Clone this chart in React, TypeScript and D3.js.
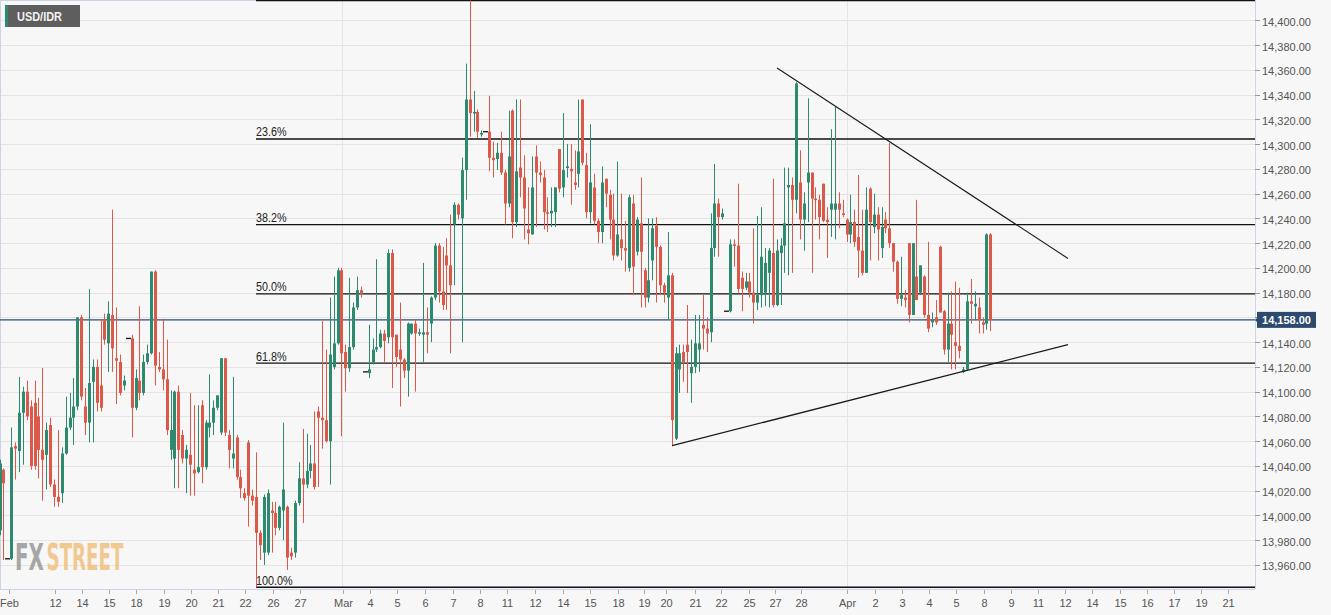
import React from 'react';
import * as d3 from 'd3';

// ---------- DATA ----------
const pairName = 'USD/IDR';

// [open, high, low, close] for every 4-hour candle, oldest first
const ohlc: [number, number, number, number][] = [
[13988,14045,13984,14042],[14037,14038,13964,14026],[13965,13965,13965,13965],[13965,14071,13964,14055],
[14056,14059,14029,14054],[14052,14112,14035,14083],[14083,14104,14041,14100],[14100,14109,14077,14080],
[14088,14093,14037,14040],[14091,14109,14037,14040],[14080,14095,14030,14053],[14053,14119,14012,14045],
[14049,14075,14021,14069],[14073,14079,14023,14025],[14025,14029,14007,14015],[14015,14069,14007,14011],
[14018,14055,14010,14050],[14050,14096,14049,14071],[14071,14099,14069,14079],[14079,14111,14057,14088],
[14088,14160,14085,14160],[14160,14162,14093,14096],[14088,14103,14065,14075],[14075,14183,14059,14107],
[14108,14126,14059,14120],[14120,14126,14084,14091],[14105,14158,14084,14087],[14158,14163,14138,14142],
[14139,14173,14116,14163],[14162,14247,14116,14135],[14127,14168,14090,14125],[14124,14130,14097,14099],
[14105,14113,14101,14109],[14143,14143,14143,14143],[14143,14146,14063,14087],[14087,14118,14085,14111],
[14109,14169,14093,14099],[14099,14130,14097,14124],[14124,14138,14122,14131],[14131,14197,14130,14197],
[14197,14198,14105,14121],[14120,14132,14116,14118],[14118,14159,14101,14110],[14110,14142,14065,14069],
[14053,14101,14045,14069],[14046,14101,14022,14100],[14100,14105,14022,14053],[14065,14069,14042,14046],
[14046,14057,14018,14053],[14049,14099,14016,14041],[14037,14089,14016,14034],[14035,14089,14034,14039],
[14089,14093,14026,14039],[14039,14077,14037,14075],[14071,14114,14063,14075],[14075,14093,14065,14087],
[14087,14097,14085,14097],[14067,14127,14065,14127],[14127,14127,14064,14067],[14065,14069,14038,14053],
[14046,14112,14038,14050],[14063,14065,14029,14031],[14031,14037,14014,14022],[14018,14022,14012,14014],
[14059,14061,13991,14016],[14016,14021,14008,14012],[14015,14051,13942,13986],[13986,13988,13964,13976],
[13970,14017,13960,14015],[13970,14021,13968,14018],[14004,14011,13970,14002],[14002,14011,13984,13990],
[13990,14008,13988,14007],[14004,14075,13980,14021],[14007,14008,13956,13966],[13970,13974,13964,13967],
[13970,14012,13966,14010],[14010,14043,14008,14030],[14030,14070,13994,14025],[14025,14066,14022,14036],
[14036,14057,14030,14042],[14042,14084,14021,14023],[14084,14088,14023,14079],[14079,14157,14054,14077],
[14077,14134,14059,14060],[14060,14176,14025,14130],[14120,14193,14118,14139],[14139,14200,14138,14198],
[14198,14200,14064,14131],[14132,14138,14100,14119],[14119,14192,14116,14136],[14136,14172,14134,14168],
[14168,14193,14166,14182],[14182,14185,14176,14179],[14116,14116,14116,14116],[14115,14154,14111,14118],
[14123,14143,14122,14134],[14134,14207,14132,14136],[14136,14150,14135,14147],[14147,14150,14124,14141],
[14144,14215,14139,14212],[14212,14215,14103,14144],[14146,14146,14120,14128],[14134,14172,14088,14126],
[14126,14127,14111,14117],[14117,14156,14096,14155],[14147,14155,14146,14155],[14155,14158,14100,14147],
[14147,14151,14145,14148],[14146,14204,14124,14148],[14148,14168,14131,14146],[14155,14177,14140,14176],
[14176,14220,14174,14218],[14218,14220,14172,14181],[14181,14217,14166,14170],[14210,14224,14166,14202],
[14202,14243,14131,14186],[14235,14253,14186,14251],[14251,14252,14239,14243],[14240,14289,14140,14279],
[14279,14365,14255,14336],[14336,14416,14306,14325],[14325,14343,14310,14326],[14326,14328,14305,14310],
[14308,14311,14306,14309],[14310,14310,14310,14310],[14310,14339,14278,14289],[14289,14302,14273,14287],
[14288,14301,14279,14293],[14293,14310,14275,14277],[14277,14279,14235,14252],[14252,14327,14249,14290],
[14327,14328,14224,14237],[14237,14336,14233,14278],[14281,14336,14257,14273],[14273,14291,14223,14248],
[14231,14265,14219,14228],[14227,14290,14227,14265],[14290,14299,14233,14277],[14277,14286,14269,14275],
[14273,14279,14231,14245],[14245,14257,14229,14244],[14244,14265,14233,14246],[14245,14265,14233,14265],
[14296,14296,14261,14264],[14265,14325,14257,14279],[14281,14300,14273,14282],[14280,14300,14251,14278],
[14269,14295,14263,14267],[14276,14336,14265,14294],[14336,14336,14283,14285],[14283,14293,14240,14245],
[14245,14316,14236,14269],[14265,14276,14235,14238],[14238,14240,14220,14229],[14229,14282,14220,14269],
[14272,14272,14249,14260],[14259,14263,14223,14239],[14239,14260,14206,14210],[14210,14286,14209,14227],
[14223,14260,14206,14216],[14216,14238,14197,14214],[14200,14259,14197,14257],[14252,14259,14178,14201],
[14213,14241,14210,14239],[14236,14273,14168,14213],[14198,14200,14168,14176],[14176,14240,14172,14190],
[14206,14240,14190,14232],[14234,14241,14172,14217],[14217,14218,14178,14186],[14186,14188,14172,14180],
[14176,14229,14158,14194],[14194,14196,14056,14077],[14062,14136,14061,14131],[14118,14138,14099,14131],
[14132,14138,14108,14124],[14138,14170,14099,14132],[14115,14142,14091,14120],[14120,14162,14115,14139],
[14134,14162,14116,14139],[14154,14178,14134,14151],[14151,14160,14132,14147],[14148,14244,14140,14216],
[14216,14284,14209,14252],[14252,14256,14209,14241],[14241,14248,14239,14244],[14165,14165,14165,14165],
[14165,14223,14164,14219],[14219,14223,14201,14218],[14218,14268,14180,14183],[14192,14197,14165,14183],
[14184,14196,14182,14189],[14189,14196,14176,14180],[14180,14232,14155,14172],[14172,14242,14166,14178],
[14178,14249,14168,14209],[14180,14216,14169,14204],[14196,14216,14168,14214],[14212,14272,14168,14170],
[14170,14223,14169,14214],[14212,14224,14170,14218],[14218,14281,14196,14236],[14265,14281,14194,14267],
[14267,14273,14196,14255],[14255,14350,14244,14349],[14269,14295,14223,14239],[14239,14261,14214,14252],
[14269,14337,14237,14277],[14277,14277,14196,14256],[14256,14265,14239,14255],[14255,14259,14223,14241],
[14268,14268,14237,14238],[14239,14249,14208,14237],[14247,14312,14225,14252],[14247,14330,14223,14252],
[14252,14261,14232,14247],[14244,14255,14241,14243],[14239,14240,14221,14227],[14227,14259,14220,14237],
[14237,14247,14217,14221],[14225,14275,14192,14214],[14214,14247,14194,14196],[14196,14265,14196,14247],
[14264,14265,14206,14237],[14233,14260,14228,14243],[14243,14249,14206,14231],[14216,14249,14208,14233],
[14239,14245,14228,14232],[14232,14301,14216,14220],[14220,14220,14197,14205],[14205,14206,14171,14175],
[14175,14209,14169,14178],[14176,14182,14168,14174],[14220,14220,14156,14162],[14162,14220,14162,14220],
[14193,14255,14174,14174],[14180,14202,14178,14202],[14193,14194,14160,14162],[14162,14221,14148,14151],
[14156,14164,14152,14158],[14160,14174,14154,14156],[14217,14218,14164,14164],[14165,14166,14130,14134],
[14134,14180,14124,14155],[14155,14181,14118,14146],[14140,14189,14118,14137],[14137,14184,14127,14133],
[14116,14120,14115,14118],[14118,14180,14117,14173],[14173,14191,14155,14171],[14169,14181,14158,14171],
[14168,14176,14147,14158],[14156,14160,14147,14154],[14155,14228,14150,14227],[14227,14228,14149,14158],
];

const xTickLabels = ['Feb','12','14','15','18','19','20','21','22','26','27','Mar','4','5','6','7','8','11','12','14','15','18','19','20','21','22','25','27','28','Apr','2','3','4','5','8','9','11','12','14','15','16','17','19','21'];
const xTickIndex = [2.4,14.3,21.3,28.2,35.1,42.3,49.3,56.2,63.2,70.4,77.2,88.4,95.3,102.4,109.5,116.6,123.7,130.6,137.8,145,152,159.1,165.9,171.5,178.9,185.7,192.8,199.6,206.3,218.1,225.3,232.3,239.3,246.3,253.3,260.3,267.3,274.3,281.3,288.3,295.3,302.3,309.3,316.3];
const monthStartIndex = [88.1, 218.1];

const yTickValues = d3.range(13960, 14401, 20);
const priceDomain = [13940.6, 14416.4];
const lastPrice = 14158;

const fibHigh = 14416;
const fibLow = 13942;
const fibStartIndex = 66;
const fibRatios = [0, 0.236, 0.382, 0.5, 0.618, 1];
const fibLabels = ['', '23.6%', '38.2%', '50.0%', '61.8%', '100.0%'];

const upperTrendIndex = [200.1, 275];
const upperTrendPrice = [14361.5, 14207.6];
const lowerTrendIndex = [173.1, 275];
const lowerTrendPrice = [14056.4, 14138];

const watermarkParts = ['FX', 'STREET'];

// ---------- STYLE ----------
const W = 1331, H = 615;
const plotRight = 1255, plotBottom = 589;
const GREEN = '#2e8a6f';
const RED = '#dc5848';
const GRID = '#e4e4e4';
const AXIS = '#ccd4e4';
const FONT = '"Liberation Sans", Arial, Helvetica, sans-serif';
const WM_FONT = '"DejaVu Sans Condensed", "DejaVu Sans", sans-serif';

export default function App() {
  const x = d3.scaleLinear().domain([0, ohlc.length - 1]).range([-0.4, 990.3]);
  const y = d3.scaleLinear().domain(priceDomain).range([plotBottom, 0]);
  const fmt = d3.format(',.2f');
  const trendLine = d3.line<[number, number]>().x(d => x(d[0])).y(d => y(d[1]));

  const upper: [number, number][] = upperTrendIndex.map((v, k) => [v, upperTrendPrice[k]]);
  const lower: [number, number][] = lowerTrendIndex.map((v, k) => [v, lowerTrendPrice[k]]);

  const fibX = x(fibStartIndex);
  const lastY = y(lastPrice);

  return (
    <svg width={W} height={H} style={{ position: 'absolute', left: 0, top: 0, display: 'block' }}
      xmlns="http://www.w3.org/2000/svg">
      <defs>
        <clipPath id="plotClip">
          <rect x={0} y={0} width={plotRight} height={plotBottom} />
        </clipPath>
      </defs>
      <rect x={0} y={0} width={W} height={H} fill="#f7f7f7" />

      {/* grid */}
      <g>
        {yTickValues.map(v => (
          <line key={v} x1={0} x2={plotRight} y1={Math.round(y(v)) + 0.5} y2={Math.round(y(v)) + 0.5}
            stroke={GRID} strokeWidth={1} />
        ))}
        {monthStartIndex.map(m => (
          <line key={m} x1={Math.round(x(m)) + 0.5} x2={Math.round(x(m)) + 0.5} y1={0} y2={plotBottom}
            stroke={GRID} strokeWidth={1} />
        ))}
      </g>

      {/* plot frame */}
      <line x1={0} x2={plotRight} y1={0.5} y2={0.5} stroke={AXIS} />
      <line x1={0.5} x2={0.5} y1={0} y2={plotBottom} stroke={AXIS} />

      {/* watermark */}
      <g opacity={0.8} transform="translate(15,570) scale(1,1.85)">
        <text x={0} y={0} fontFamily={WM_FONT} fontWeight="bold" fontSize={20}
          textLength={29} lengthAdjust="spacingAndGlyphs" fill="#939393">{watermarkParts[0]}</text>
        <text x={31.5} y={0} fontFamily={WM_FONT} fontWeight="bold" fontSize={20}
          textLength={77} lengthAdjust="spacingAndGlyphs" fill="#f2bd78">{watermarkParts[1]}</text>
      </g>

      <g clipPath="url(#plotClip)">
        {/* fibonacci lines */}
        {fibRatios.map((r, k) => {
          const yy = y(fibHigh - r * (fibHigh - fibLow));
          return (
            <g key={r}>
              <line x1={fibX} x2={plotRight} y1={yy} y2={yy} stroke="#111" strokeWidth={1.4} />
              {fibLabels[k] && (
                <text x={fibX} y={yy - 2.5} fontFamily={FONT} fontSize={12} fill="#222"
                  textLength={fibLabels[k].length * 6.1} lengthAdjust="spacingAndGlyphs">{fibLabels[k]}</text>
              )}
            </g>
          );
        })}

        {/* last price line */}
        <line x1={0} x2={plotRight} y1={lastY} y2={lastY} stroke="#2d4d75" strokeWidth={1.2} />

        {/* candles */}
        {ohlc.map(([o, h, l, c], i) => {
          const cx = Math.round(x(i));
          if (o === c) {
            return (
              <g key={i}>
                {h !== l && <line x1={cx + 0.5} x2={cx + 0.5} y1={y(h)} y2={y(l)} stroke="#333" />}
                <line x1={cx - 2} x2={cx + 3} y1={y(o)} y2={y(o)} stroke="#111" strokeWidth={1.3} />
              </g>
            );
          }
          const col = c > o ? GREEN : RED;
          const top = y(Math.max(o, c));
          const bot = y(Math.min(o, c));
          return (
            <g key={i}>
              <line x1={cx + 0.5} x2={cx + 0.5} y1={y(h)} y2={y(l)} stroke={col} strokeWidth={1} />
              <rect x={cx - 1} y={top} width={3} height={Math.max(1.6, bot - top)} fill={col} />
            </g>
          );
        })}

        {/* trend lines */}
        <path d={trendLine(upper) || ''} fill="none" stroke="#1a1a1a" strokeWidth={1.1} />
        <path d={trendLine(lower) || ''} fill="none" stroke="#1a1a1a" strokeWidth={1.3} />
      </g>

      {/* right axis */}
      <line x1={plotRight + 0.5} x2={plotRight + 0.5} y1={0} y2={plotBottom} stroke={AXIS} />
      {yTickValues.map(v => (
        <g key={v}>
          <line x1={plotRight} x2={plotRight + 5} y1={Math.round(y(v)) + 0.5} y2={Math.round(y(v)) + 0.5} stroke="#999" />
          <text x={plotRight + 7} y={y(v) + 5.5} fontFamily={FONT} fontSize={11} fill="#555">{fmt(v)}</text>
        </g>
      ))}
      <g>
        <rect x={plotRight + 2} y={lastY - 8} width={59} height={16} fill="#2c4a6e" />
        <path d={`M${plotRight} ${lastY} L${plotRight + 3} ${lastY - 3} L${plotRight + 3} ${lastY + 3} Z`} fill="#2c4a6e" />
        <text x={plotRight + 31.5} y={lastY + 4} textAnchor="middle" fontFamily={FONT} fontSize={11}
          fontWeight="bold" fill="#ffffff">{fmt(lastPrice)}</text>
      </g>

      {/* bottom axis */}
      <line x1={0} x2={plotRight} y1={plotBottom + 0.5} y2={plotBottom + 0.5} stroke={AXIS} />
      {xTickLabels.map((lab, k) => {
        const xx = Math.round(x(xTickIndex[k])) + 0.5;
        return (
          <g key={k}>
            <line x1={xx} x2={xx} y1={plotBottom + 1} y2={plotBottom + 5} stroke="#aaa" />
            <text x={xx} y={607} textAnchor="middle" fontFamily={FONT} fontSize={11} fill="#555">{lab}</text>
          </g>
        );
      })}

      {/* pair label */}
      <g>
        <rect x={5} y={5} width={75} height={22} fill="#5e5e5e" />
        <rect x={5} y={5} width={3} height={22} fill="#2e8a6f" />
        <text x={17} y={21} fontFamily={FONT} fontSize={12} fontWeight="bold" fill="#f2f2f2"
          textLength={45} lengthAdjust="spacingAndGlyphs">{pairName}</text>
      </g>
    </svg>
  );
}
